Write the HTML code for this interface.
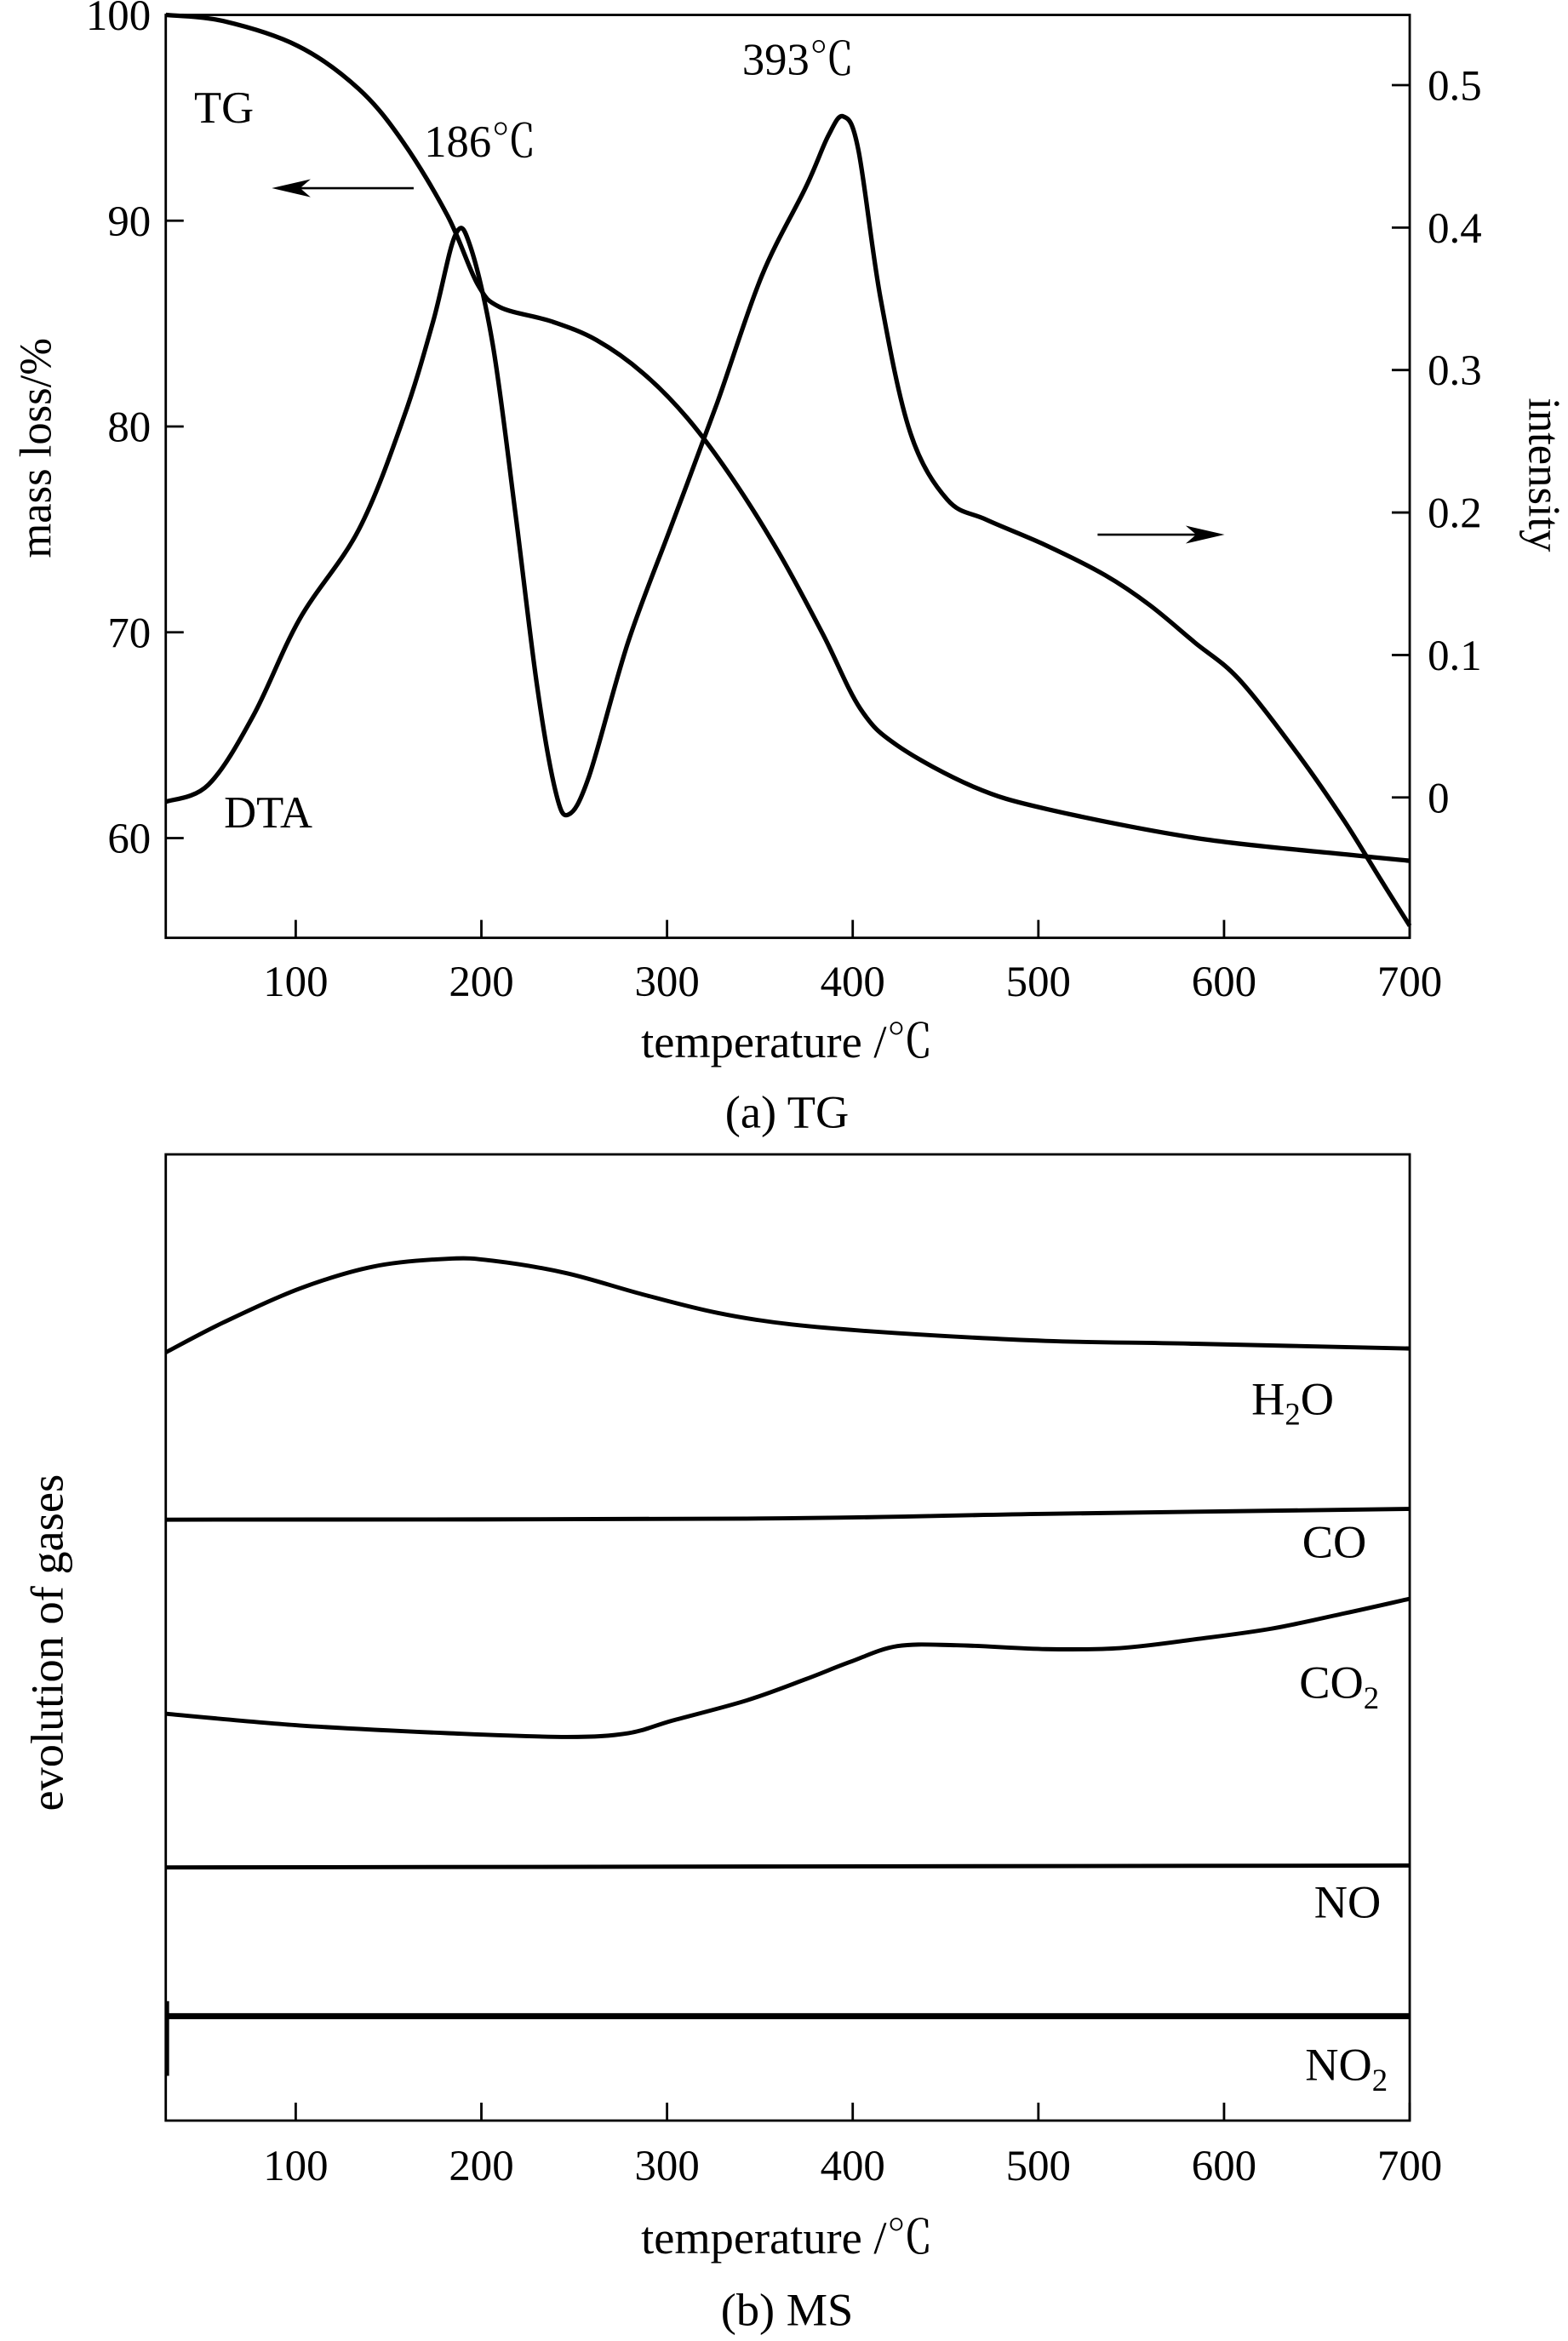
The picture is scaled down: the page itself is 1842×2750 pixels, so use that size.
<!DOCTYPE html>
<html><head><meta charset="utf-8"><style>
html,body{margin:0;padding:0;background:#fff;}
svg{display:block;font-family:"Liberation Serif","Noto Serif CJK SC",serif;}
</style></head><body>
<svg id="fig" width="1842" height="2750" viewBox="0 0 1050 1567.6" preserveAspectRatio="none" xmlns="http://www.w3.org/2000/svg">
<g id="topchart"></g>
<g id="botchart"></g>
</svg>
<script>
// ---- Chart (a) data ----
const tgTemps = [30,61,101,134,158,182,198,210,238,262,287,311,335,360,384,404,424,465,505,585,666,700];
const tgMass = [100,99.7,98.5,96.4,93.8,90.2,86.9,85.8,85.1,84.2,82.6,80.4,77.5,73.9,69.9,66.3,64.5,62.5,61.4,60.0,59.2,58.9];
const dtaTemps = [30,53,77,102,134,158,174,186,194,206,218,230,240,247,258,279,303,327,351,375,387,395,403,415,431,451,472,504,536,560,584,608,640,665,685,700];
const dtaIntensity = [-0.003,0.009,0.057,0.125,0.188,0.266,0.334,0.395,0.387,0.319,0.203,0.078,0.004,-0.012,0.015,0.109,0.193,0.277,0.366,0.429,0.465,0.478,0.455,0.350,0.256,0.209,0.195,0.177,0.156,0.135,0.109,0.083,0.030,-0.017,-0.059,-0.090];
const xTicks = [100,200,300,400,500,600,700];
const leftTicks = [60,70,80,90,100];
const rightTicks = [0,0.1,0.2,0.3,0.4,0.5];
const rightTickLabels = ["0","0.1","0.2","0.3","0.4","0.5"];
// ---- Chart (b) data ----
const msTemps = [30,61,102,142,182,206,246,287,327,367,424,504,584,700];
const h2oValues = [79.5,82.6,86.1,88.4,89.2,89.0,87.7,85.5,83.6,82.4,81.5,80.7,80.4,79.9];
const coTemps = [30,343,504,700];
const coValues = [62.2,62.3,62.8,63.3];
const co2Temps = [30,102,182,246,279,303,343,375,399,424,456,504,544,584,625,665,700];
const co2Values = [42.1,40.9,40.1,39.7,40.1,41.4,43.5,45.7,47.5,49.1,49.2,48.8,48.9,49.8,50.9,52.5,54.0];
const noTemps = [30,700];
const noValues = [26.2,26.4];
const no2Temps = [30,700];
const no2Values = [10.8,10.8];

const NS="http://www.w3.org/2000/svg";
function mk(parent,tag,attrs,text){const el=document.createElementNS(NS,tag);for(const k in attrs)el.setAttribute(k,attrs[k]);if(text!==undefined)el.textContent=text;parent.appendChild(el);return el;}
const L=111,R=944;
const xs=t=>L+(t-30)*(R-L)/670;
function path(xsArr,ysArr,fx,fy){
  const P=xsArr.map((t,i)=>[fx(t),fy(ysArr[i])]);
  let d='M'+P[0][0].toFixed(1)+' '+P[0][1].toFixed(1);
  for(let i=0;i<P.length-1;i++){
    const p0=P[Math.max(0,i-1)],p1=P[i],p2=P[i+1],p3=P[Math.min(P.length-1,i+2)];
    const c1=[p1[0]+(p2[0]-p0[0])/6,p1[1]+(p2[1]-p0[1])/6];
    const c2=[p2[0]-(p3[0]-p1[0])/6,p2[1]-(p3[1]-p1[1])/6];
    d+=' C'+c1[0].toFixed(1)+' '+c1[1].toFixed(1)+' '+c2[0].toFixed(1)+' '+c2[1].toFixed(1)+' '+p2[0].toFixed(1)+' '+p2[1].toFixed(1);
  }
  return d;
}

// ===== Top chart =====
const topG=document.getElementById('topchart');
const T0=10,B0=628;
const yL=v=>10+(100-v)*13.78;
const yR=v=>534-v*954;
let e=mk(topG,'rect',{x:L,y:T0,width:R-L,height:B0-T0,fill:'none',stroke:'#000','stroke-width':1.6});


xTicks.forEach(t=>{
  let l=mk(topG,'line',{x1:xs(t),x2:xs(t),y1:B0,y2:B0-12,stroke:'#000','stroke-width':1.6});
  
  
  let tx=mk(topG,'text',{x:xs(t),y:B0+39,'font-size':29,'text-anchor':'middle'},String(t));
  
  
});
leftTicks.forEach(v=>{
  let l=mk(topG,'line',{x1:L,x2:L+12,y1:yL(v),y2:yL(v),stroke:'#000','stroke-width':1.6});
  
  
  let tx=mk(topG,'text',{x:L-10,y:yL(v)+10,'font-size':29,'text-anchor':'end'},String(v));
  
  
});
rightTicks.forEach((v,i)=>{
  let l=mk(topG,'line',{x1:R,x2:R-12,y1:yR(v),y2:yR(v),stroke:'#000','stroke-width':1.6});
  
  
  let tx=mk(topG,'text',{x:R+12,y:yR(v)+10,'font-size':29},rightTickLabels[i]);
  
  
});
e=mk(topG,'path',{d:path(tgTemps,tgMass,xs,yL),fill:'none',stroke:'#000','stroke-width':3,'stroke-linejoin':'round'});


e=mk(topG,'path',{d:path(dtaTemps,dtaIntensity,xs,yR),fill:'none',stroke:'#000','stroke-width':3,'stroke-linejoin':'round'});


const ann=[['TG',130,82,'tg-label'],['186℃',284,105,'peak-186-label'],['393℃',497,50,'peak-393-label'],['DTA',150,554,'dta-label']];
ann.forEach(a=>{
  let t=mk(topG,'text',{x:a[1],y:a[2],'font-size':30},a[0]);
  
  
});
e=mk(topG,'line',{x1:277,x2:190,y1:126,y2:126,stroke:'#000','stroke-width':1.5});


e=mk(topG,'path',{d:'M182 126 L208 120 L201 126 L208 132 Z',fill:'#000'});


e=mk(topG,'line',{x1:735,x2:812,y1:358,y2:358,stroke:'#000','stroke-width':1.5});


e=mk(topG,'path',{d:'M820 358 L794 352 L801 358 L794 364 Z',fill:'#000'});


e=mk(topG,'text',{x:0,y:0,'font-size':30,'text-anchor':'middle',transform:'translate(34,300) rotate(-90)'},'mass  loss/%');


e=mk(topG,'text',{x:0,y:0,'font-size':30,'text-anchor':'middle',transform:'translate(1024,318) rotate(90)'},'intensity');


e=mk(topG,'text',{x:527,y:708,'font-size':31,'text-anchor':'middle'},'temperature /℃');


e=mk(topG,'text',{x:527,y:755,'font-size':31,'text-anchor':'middle'},'(a) TG');



// ===== Bottom chart =====
const botG=document.getElementById('botchart');
const T1=773,B1=1420;
const yS=v=>B1-v*(B1-T1)/100;
e=mk(botG,'rect',{x:L,y:T1,width:R-L,height:B1-T1,fill:'none',stroke:'#000','stroke-width':1.6});


xTicks.forEach(t=>{
  let l=mk(botG,'line',{x1:xs(t),x2:xs(t),y1:B1,y2:B1-12,stroke:'#000','stroke-width':1.6});
  
  
  let tx=mk(botG,'text',{x:xs(t),y:B1+40,'font-size':29,'text-anchor':'middle'},String(t));
  
  
});
const series=[[msTemps,h2oValues,'h2o-curve',2.8],[coTemps,coValues,'co-curve',2.8],[co2Temps,co2Values,'co2-curve',2.8],[noTemps,noValues,'no-curve',2.8],[no2Temps,no2Values,'no2-curve',4]];
series.forEach(s=>{
  let p=mk(botG,'path',{d:path(s[0],s[1],xs,yS),fill:'none',stroke:'#000','stroke-width':s[3],'stroke-linejoin':'round'});
  
  
});
e=mk(botG,'line',{x1:L+1,x2:L+1,y1:1340,y2:1390,stroke:'#000','stroke-width':2.5});


function lab(parent,x,y,main,sub,name){
  let t=mk(parent,'text',{x:x,y:y,'font-size':31});
  
  
  const parts=main.split('|');
  mk(t,'tspan',{},parts[0]);
  if(sub){mk(t,'tspan',{'font-size':21,dy:7},sub);if(parts[1]){mk(t,'tspan',{'font-size':31,dy:-7},parts[1]);}}
}
lab(botG,838,947,'H|O','2','h2o-label');
lab(botG,872,1043,'CO',null,'co-label');
lab(botG,870,1137,'CO','2','co2-label');
lab(botG,880,1284,'NO',null,'no-label');
lab(botG,874,1393,'NO','2','no2-label');
e=mk(botG,'text',{x:0,y:0,'font-size':31,'text-anchor':'middle',transform:'translate(42,1100) rotate(-90)'},'evolution of gases');


e=mk(botG,'text',{x:527,y:1509,'font-size':31,'text-anchor':'middle'},'temperature /℃');


e=mk(botG,'text',{x:527,y:1557,'font-size':31,'text-anchor':'middle'},'(b) MS');


</script>
</body></html>
